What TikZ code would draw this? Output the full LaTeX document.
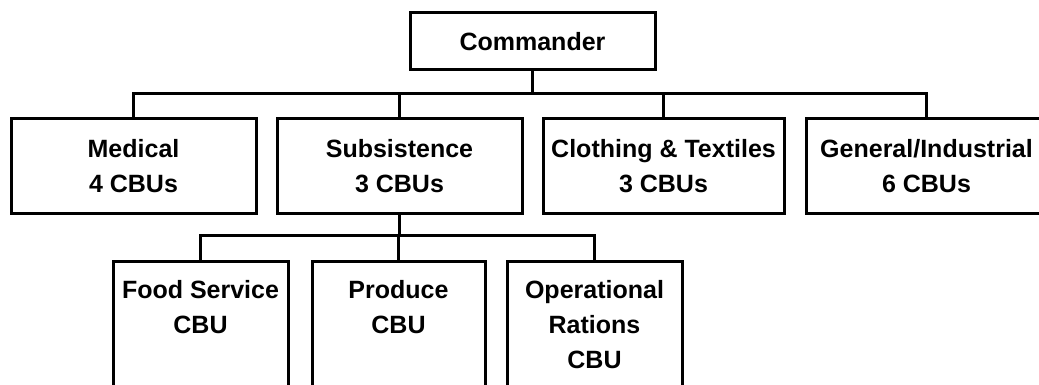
\documentclass[tikz,border=0pt]{standalone}
\usepackage{fontspec}
\setmainfont{Liberation Sans}
\begin{document}
\begin{tikzpicture}[x=1pt, y=-1pt, line width=3pt, line join=miter,
  txt/.style={inner sep=0pt, align=center, font=\bfseries\fontsize{25}{35}\selectfont},
  unitbox/.style={draw, rectangle, inner sep=0pt, align=center,
    font=\bfseries\fontsize{25}{35}\selectfont, minimum height=94pt},
  cbubox/.style={draw, rectangle, inner sep=0pt, minimum height=170pt, anchor=north}]
  \useasboundingbox (0,0) rectangle (1039,385);
  \fill[white] (0,0) rectangle (1039,385);
  \clip (0,0) rectangle (1039,385);

  % top of the hierarchy
  \node[unitbox, minimum width=245pt, minimum height=57pt] (cmd) at (532.5,41.5) {Commander};

  % commodity business units
  \node[unitbox, minimum width=245pt] (med) at (133.5,166) {Medical\\4 CBUs};
  \node[unitbox, minimum width=245pt] (sub) at (399.5,166) {Subsistence\\3 CBUs};
  \node[unitbox, minimum width=241pt] (clo) at (663.5,166) {Clothing \& Textiles\\3 CBUs};
  \node[unitbox, minimum width=241pt] (gen) at (926.5,166) {General/Industrial\\6 CBUs};

  % subsistence CBUs
  \node[cbubox, minimum width=175pt] (food) at (200.5,260) {};
  \node[cbubox, minimum width=173pt] (prod) at (398.5,260) {};
  \node[cbubox, minimum width=175pt] (ops)  at (594.5,260) {};
  \node[txt, anchor=north] (foodt) at ([yshift=-19pt]food.north) {Food Service\\CBU};
  \node[txt, anchor=north] (prodt) at ([yshift=-19pt]prod.north) {Produce\\CBU};
  \node[txt, anchor=north] (opst)  at ([yshift=-19pt]ops.north) {Operational\\Rations\\CBU};

  % connector levels
  \coordinate (bus) at (0,94);
  \coordinate (subbus) at (0,235);

  \draw (cmd.south) -- (cmd.south |- bus);
  \draw (med.north) -- (med.north |- bus) -- (gen.north |- bus) -- (gen.north);
  \draw (sub.north) -- (sub.north |- bus);
  \draw (clo.north) -- (clo.north |- bus);

  \draw (sub.south) -- (sub.south |- subbus);
  \draw (food.north) -- (food.north |- subbus) -- (ops.north |- subbus) -- (ops.north);
  \draw (prod.north) -- (prod.north |- subbus);
\end{tikzpicture}
\end{document}
